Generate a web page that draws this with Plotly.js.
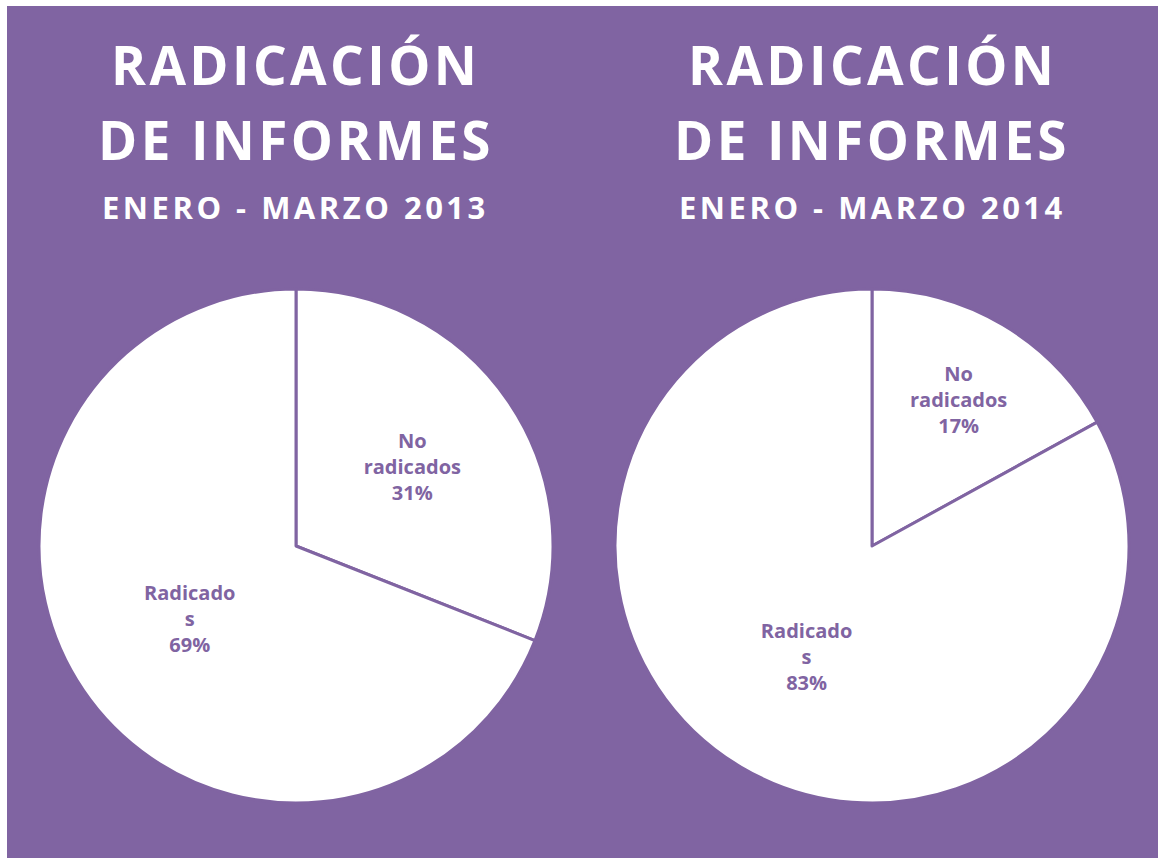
<!DOCTYPE html>
<html>
<head>
<meta charset="utf-8">
<script src="https://cdn.plot.ly/plotly-3.0.1.min.js"></script>
<style>
  html, body { margin: 0; padding: 0; background: #ffffff; }
  #chart { position: absolute; left: 7px; top: 6px; width: 1151px; height: 852px; }
  .annotation-text[style*="font-size: 53px"] { letter-spacing: 3.4px; }
  .annotation-text[style*="font-size: 31px"] { letter-spacing: 3.5px; }
</style>
</head>
<body>
<div id="chart"></div>
<script>
// Data
const categories = ["No radicados", "Radicados"];
const labels2013 = ["No<br>radicados<br>31%", "Radicado<br>s<br>69%"];
const labels2014 = ["No<br>radicados<br>17%", "Radicado<br>s<br>83%"];
const values2013 = [31, 69];
const values2014 = [17, 83];
const titleLine1 = "RADICACIÓN";
const titleLine2 = "DE INFORMES";
const subtitle2013 = "ENERO - MARZO 2013";
const subtitle2014 = "ENERO - MARZO 2014";

const PURPLE = "#8064A2";
const W = 1151, H = 852;
const px = v => v / W;
const py = v => 1 - v / H;

function pie(values, text, domainX) {
  return {
    type: "pie",
    labels: categories,
    values: values,
    text: text,
    textinfo: "text",
    textposition: "inside",
    insidetextorientation: "horizontal",
    sort: false,
    direction: "clockwise",
    rotation: 0,
    hoverinfo: "skip",
    marker: { colors: ["#ffffff", "#ffffff"], line: { color: PURPLE, width: 3 } },
    textfont: { family: "Open Sans", size: 20, color: PURPLE, weight: "bold" },
    domain: { x: domainX, y: [55 / H, 569 / H] },
    showlegend: false
  };
}

const data = [
  pie(values2013, labels2013, [32 / W, 546 / W]),
  pie(values2014, labels2014, [608 / W, 1122 / W])
];

function ann(text, xc, yc, size) {
  return {
    text: text, xref: "paper", yref: "paper",
    x: px(xc), y: py(yc), xanchor: "center", yanchor: "middle",
    showarrow: false,
    font: { family: "Open Sans", size: size, color: "#ffffff", weight: "bold" }
  };
}

const annotations = [
  ann(titleLine1, 289, 59, 53),
  ann(titleLine2, 289, 134, 53),
  ann(subtitle2013, 289, 201, 31),
  ann(titleLine1, 865, 59, 53),
  ann(titleLine2, 865, 134, 53),
  ann(subtitle2014, 865, 201, 31)
];

const layout = {
  width: W, height: H,
  margin: { l: 0, r: 0, t: 0, b: 0 },
  paper_bgcolor: PURPLE,
  plot_bgcolor: PURPLE,
  showlegend: false,
  annotations: annotations
};

Plotly.newPlot("chart", data, layout, { staticPlot: true, displayModeBar: false });
</script>
</body>
</html>
